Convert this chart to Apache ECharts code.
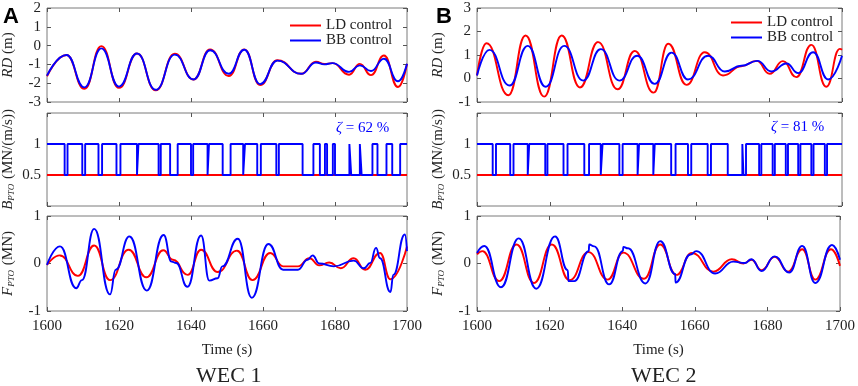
<!DOCTYPE html>
<html>
<head>
<meta charset="utf-8">
<script src="https://cdn.jsdelivr.net/npm/echarts@6/dist/echarts.min.js"></script>
<style>
  html, body { margin: 0; padding: 0; background: #fff; }
  #chart { width: 858px; height: 386px; }
</style>
</head>
<body>
<div id="chart"></div>
<script>
// ---- WEC 1 : relative displacement RD (m) ----
const wec1RdTime = [1600, 1605.4, 1610.4, 1615.1, 1620, 1625, 1630.2, 1635.5, 1640.7, 1645.3, 1650.5, 1654.8, 1659.2, 1664, 1670.6, 1674.7, 1677.0, 1679.3, 1683.9, 1686.9, 1690, 1693.6, 1697.5, 1700]
const wec1RdLD = [-1.63, -0.5, -2.3, -0.03, -2.25, -0.42, -2.38, -0.43, -1.8, -0.2, -1.62, -0.2, -2.1, -0.78, -1.5, -0.85, -0.98, -0.93, -1.55, -0.97, -1.57, -0.53, -2.2, -0.97]
const wec1RdBB = [-1.6, -0.5, -2.22, -0.15, -2.18, -0.42, -2.35, -0.48, -1.8, -0.25, -1.5, -0.22, -2.05, -0.8, -1.5, -0.9, -1.0, -0.93, -1.4, -1.05, -1.35, -0.7, -1.9, -0.97]

// ---- WEC 2 : relative displacement RD (m) ----
const wec2RdTimeLD = [1600, 1602.6, 1608.6, 1613.3, 1618.4, 1623.2, 1628.2, 1633.2, 1638.5, 1643.2, 1648.4, 1652.4, 1657.4, 1662.4, 1667.4, 1672.4, 1676.6, 1680.2, 1683.8, 1687.5, 1691.6, 1695.7, 1699.4, 1700]
const wec2RdLD = [0.13, 1.5, -0.71, 1.83, -0.77, 1.83, -0.38, 1.55, -0.46, 1.17, -0.6, 1.48, -0.27, 1.12, 0.13, 0.52, 0.75, 0.2, 0.74, 0.06, 1.43, -0.35, 1.26, 1.22]
const wec2RdTimeBB = [1600, 1603.4, 1608.9, 1613.9, 1618.8, 1623.9, 1629.1, 1633.9, 1639, 1643.9, 1648.7, 1653.3, 1657.8, 1663.3, 1667.9, 1672.4, 1676.8, 1680.7, 1684.8, 1688, 1692.1, 1696.2, 1700]
const wec2RdBB = [0.13, 1.22, -0.3, 1.39, -0.35, 1.39, -0.09, 1.25, -0.09, 0.97, -0.23, 1.1, -0.04, 0.97, 0.3, 0.54, 0.75, 0.3, 0.64, 0.23, 1.12, -0.04, 0.97]

// ---- PTO damping B_PTO (MN/(m/s)) ----
const bptoTime = [1600, 1700]
const bptoLD = [0.5, 0.5]
const bptoHigh = 1
const bptoLow = 0.5
// BB control: intervals where damping drops to the low value
const wec1LowStart = [1604.9, 1609.8, 1614.3, 1619.3, 1625.0, 1631.0, 1634.2, 1640.0, 1644.6, 1648.8, 1654.5, 1658.4, 1663.7, 1671.0, 1675.8, 1677.8, 1680.0, 1684.5, 1687.4, 1691.8, 1695.9]
const wec1LowEnd = [1605.7, 1610.6, 1615.3, 1620.4, 1625.4, 1631.6, 1636.3, 1640.6, 1645.0, 1651.0, 1655.0, 1659.4, 1664.4, 1674.0, 1677.2, 1679.4, 1684.0, 1686.9, 1690.4, 1694.3, 1698.1]
const wec2LowStart = [1604.3, 1609.1, 1613.9, 1618.7, 1623.7, 1629.4, 1633.9, 1639.0, 1644.0, 1648.3, 1653.2, 1657.8, 1663.2, 1668.7, 1673.0, 1677.3, 1681.0, 1684.6, 1688.0, 1691.6, 1695.3]
const wec2LowEnd = [1605.2, 1610.0, 1614.3, 1619.3, 1624.8, 1630.7, 1634.4, 1639.9, 1644.4, 1648.7, 1654.4, 1658.7, 1664.1, 1672.7, 1673.7, 1677.9, 1681.6, 1685.2, 1688.6, 1692.2, 1695.9]
const zetaWec1 = 62
const zetaWec2 = 81

// ---- PTO force F_PTO (MN) ----
const wec1FTimeLD = [1600, 1603.6, 1608.6, 1613.1, 1617.5, 1622.7, 1627.6, 1632.3, 1635, 1639.1, 1642.8, 1647.4, 1652.8, 1657.1, 1662, 1665.6, 1669.7, 1672.9, 1675.6, 1678.4, 1681.6, 1685.2, 1688.4, 1692.5, 1695.4, 1700]
const wec1FLD = [-0.03, 0.17, -0.26, 0.38, -0.35, 0.29, -0.29, 0.28, 0.08, -0.24, 0.29, -0.18, 0.27, -0.35, 0.22, -0.06, -0.06, 0.11, -0.04, 0.02, -0.1, 0.11, -0.13, 0.22, -0.33, 0.36]
const wec1FTimeBB = [1600, 1603.6, 1608.1, 1609.7, 1613.1, 1617.5, 1619.1, 1622.9, 1627.7, 1632.4, 1634.6, 1635.9, 1639, 1642.8, 1645.1, 1647.4, 1648.7, 1653, 1656.9, 1661.5, 1665.6, 1669.7, 1672.4, 1673.8, 1675.6, 1679.7, 1685.2, 1688, 1689.8, 1691.4, 1692.5, 1695.4, 1696.2, 1699.4, 1700]
const wec1FBB = [-0.03, 0.36, -0.52, -0.35, 0.73, -0.65, -0.13, 0.57, -0.57, 0.6, 0.04, 0.01, -0.49, 0.59, -0.36, -0.31, -0.06, 0.52, -0.72, 0.41, -0.13, -0.13, 0.08, 0.17, 0, -0.06, 0.06, -0.1, 0.01, 0.33, 0.11, -0.6, -0.24, 0.61, 0.26]

const wec2FTimeLD = [1600, 1601.5, 1606.1, 1610.9, 1615.7, 1620.6, 1625.5, 1630.7, 1636, 1640.3, 1646, 1650.5, 1654.9, 1659.2, 1665.1, 1670.2, 1673.4, 1675.6, 1678.4, 1682, 1685.7, 1689.6, 1693.2, 1697.5, 1700]
const wec2FLD = [0.19, 0.26, -0.37, 0.4, -0.41, 0.4, -0.35, 0.24, -0.34, 0.23, -0.32, 0.4, -0.24, 0.22, -0.17, 0.09, 0, 0.08, -0.14, 0.14, -0.17, 0.3, -0.34, 0.3, -0.05]
const wec2FTimeBB = [1600, 1602, 1606.6, 1611.5, 1616.3, 1621.5, 1625.0, 1625.2, 1626.8, 1630.8, 1630.9, 1632.3, 1636.4, 1640.2, 1640.3, 1641.6, 1646.4, 1650.5, 1654.6, 1654.7, 1658.8, 1660.4, 1665.6, 1670.6, 1673.8, 1675.6, 1678.4, 1682, 1686, 1689.6, 1693.2, 1697.8, 1700]
const wec2FBB = [0.22, 0.37, -0.5, 0.53, -0.53, 0.57, -0.14, -0.37, -0.37, 0.26, 0.4, 0.36, -0.44, 0.26, 0.35, 0.32, -0.42, 0.47, -0.22, -0.4, 0.19, 0.26, -0.21, 0.04, 0.01, 0.09, -0.16, 0.15, -0.19, 0.37, -0.41, 0.39, 0.08]

const RED = '#ff0000'
const BLUE = '#0000ff'
const SERIF = 'Liberation Serif'
const TXT = '#222'
const FRAME = '#7a7a7a'

function pairs (xs, ys) {
  return xs.map((x, i) => [x, ys[i]])
}

// turn low-damping intervals into a stepped line
function stepData (starts, ends) {
  const pts = [[1600, bptoHigh]]
  starts.forEach((s, i) => {
    pts.push([s, bptoHigh], [s, bptoLow], [ends[i], bptoLow], [ends[i], bptoHigh])
  })
  pts.push([1700, bptoHigh])
  return pts
}

// panel layout: 0-2 left column (WEC 1), 3-5 right column (WEC 2)
const colLeft = [42, 477]
const rowTop = [8, 113, 216]
const rowHeight = [94, 93, 95]
const yRange = [
  [-3, 2, 1], [0, 1.5, 0.5], [-1, 1, 1],
  [-1, 3, 1], [0, 1.5, 0.5], [-1, 1, 1]
]
const yNames = [
  '{i|RD} (m)',
  '{i|B}{s|PTO} (MN/(m/s))',
  '{i|F}{s|PTO} (MN)'
]

const grid = []
const xAxis = []
const yAxis = []
for (let p = 0; p < 6; p++) {
  const col = p < 3 ? 0 : 1
  const row = p % 3
  grid.push({
    left: colLeft[col],
    top: rowTop[row],
    width: 365,
    height: rowHeight[row],
    show: true,
    borderColor: FRAME,
    borderWidth: 1,
    backgroundColor: 'transparent'
  })
  const tick = { inside: true, length: 4, lineStyle: { color: '#555', width: 1 } }
  xAxis.push({
    gridIndex: p,
    type: 'value',
    min: 1600,
    max: 1700,
    interval: 20,
    position: 'bottom',
    axisLine: { show: false, onZero: false },
    axisTick: tick,
    splitLine: { show: false },
    axisLabel: {
      show: row === 2,
      showMinLabel: true,
      showMaxLabel: true,
      margin: 8,
      fontFamily: SERIF,
      fontSize: 15,
      color: TXT,
      formatter: (v) => String(v)
    },
    name: row === 2 ? 'Time (s)' : '',
    nameLocation: 'middle',
    nameGap: 32,
    nameTextStyle: { fontFamily: SERIF, fontSize: 15, color: TXT }
  })
  xAxis.push({
    gridIndex: p,
    type: 'value',
    min: 1600,
    max: 1700,
    interval: 20,
    position: 'top',
    axisLine: { show: false, onZero: false },
    axisTick: tick,
    splitLine: { show: false },
    axisLabel: { show: false }
  })
  const r = yRange[p]
  yAxis.push({
    gridIndex: p,
    type: 'value',
    min: r[0],
    max: r[1],
    interval: r[2],
    position: 'left',
    axisLine: { show: false, onZero: false },
    axisTick: tick,
    splitLine: { show: false },
    axisLabel: {
      margin: 6,
      fontFamily: SERIF,
      fontSize: 15,
      color: TXT,
      formatter: row === 1 ? (v) => (v === 0.5 || v === 1 ? String(v) : '') : (v) => String(v)
    },
    name: yNames[row],
    nameLocation: 'middle',
    nameGap: 31,
    nameTextStyle: {
      fontFamily: SERIF,
      fontSize: 15,
      color: TXT,
      rich: {
        i: { fontFamily: SERIF, fontStyle: 'italic', fontSize: 15, color: TXT },
        s: { fontFamily: SERIF, fontStyle: 'italic', fontSize: 9, color: TXT, verticalAlign: 'bottom', padding: [6, 1, 0, 0] }
      }
    }
  })
  yAxis.push({
    gridIndex: p,
    type: 'value',
    min: r[0],
    max: r[1],
    interval: r[2],
    position: 'right',
    axisLine: { show: false, onZero: false },
    axisTick: tick,
    splitLine: { show: false },
    axisLabel: { show: false }
  })
}

function line (name, color, panel, data, smooth) {
  return {
    name,
    type: 'line',
    xAxisIndex: panel * 2,
    yAxisIndex: panel * 2,
    data,
    smooth: smooth ? 0.5 : false,
    smoothMonotone: 'x',
    showSymbol: false,
    symbol: 'none',
    lineStyle: { color, width: 1.9 },
    itemStyle: { color },
    z: color === BLUE ? 3 : 2
  }
}

const series = [
  line('LD control', RED, 0, pairs(wec1RdTime, wec1RdLD), true),
  line('BB control', BLUE, 0, pairs(wec1RdTime, wec1RdBB), true),
  line('LD control', RED, 1, pairs(bptoTime, bptoLD), false),
  line('BB control', BLUE, 1, stepData(wec1LowStart, wec1LowEnd), false),
  line('LD control', RED, 2, pairs(wec1FTimeLD, wec1FLD), true),
  line('BB control', BLUE, 2, pairs(wec1FTimeBB, wec1FBB), true),
  line('LD control', RED, 3, pairs(wec2RdTimeLD, wec2RdLD), true),
  line('BB control', BLUE, 3, pairs(wec2RdTimeBB, wec2RdBB), true),
  line('LD control', RED, 4, pairs(bptoTime, bptoLD), false),
  line('BB control', BLUE, 4, stepData(wec2LowStart, wec2LowEnd), false),
  line('LD control', RED, 5, pairs(wec2FTimeLD, wec2FLD), true),
  line('BB control', BLUE, 5, pairs(wec2FTimeBB, wec2FBB), true)
]

const legendBase = {
  orient: 'vertical',
  icon: 'rect',
  itemWidth: 31,
  itemHeight: 2,
  itemGap: 0,
  selectedMode: false,
  textStyle: { fontFamily: SERIF, fontSize: 15, color: TXT },
  data: ['LD control', 'BB control']
}

const zetaText = (x, y, z) => ({
  type: 'text',
  left: x,
  top: y,
  style: {
    text: '{i|ζ} = ' + z + ' %',
    fontFamily: SERIF,
    fontSize: 15,
    fill: BLUE,
    rich: { i: { fontFamily: SERIF, fontStyle: 'italic', fontSize: 15, fill: BLUE } }
  }
})

const option = {
  animation: false,
  backgroundColor: '#fff',
  grid,
  xAxis,
  yAxis,
  series,
  legend: [
    Object.assign({ left: 285, top: 13 }, legendBase),
    Object.assign({ left: 726, top: 10 }, legendBase)
  ],
  graphic: [
    { type: 'text', left: 3, top: 6, style: { text: 'A', fontFamily: 'Liberation Sans', fontWeight: 'bold', fontSize: 22, fill: '#000' } },
    { type: 'text', left: 436, top: 6, style: { text: 'B', fontFamily: 'Liberation Sans', fontWeight: 'bold', fontSize: 22, fill: '#000' } },
    zetaText(336, 121, zetaWec1),
    zetaText(771, 120, zetaWec2),
    { type: 'text', left: 196, top: 365, style: { text: 'WEC 1', fontFamily: SERIF, fontSize: 22, fill: TXT } },
    { type: 'text', left: 631, top: 365, style: { text: 'WEC 2', fontFamily: SERIF, fontSize: 22, fill: TXT } }
  ]
}

const chart = echarts.init(document.getElementById('chart'), null, { renderer: 'canvas' })
chart.setOption(option)
</script>
</body>
</html>
